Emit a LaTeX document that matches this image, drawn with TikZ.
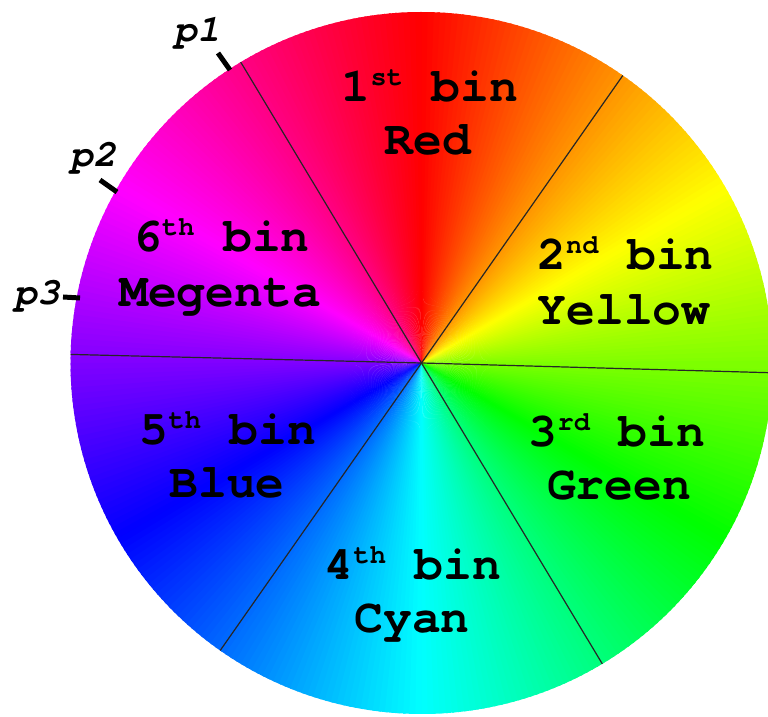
\documentclass[tikz,border=0pt]{standalone}
\usepackage{fontspec}
\newfontfamily\cour{TeX Gyre Cursor}
\newcommand\supr[1]{\raisebox{16pt}{\fontsize{27}{27}\selectfont #1}}
\begin{document}
\begin{tikzpicture}[x=1pt,y=1pt,
  lbl/.style={anchor=base, inner sep=0pt, font=\cour\bfseries\fontsize{48}{52}\selectfont},
  plbl/.style={anchor=base, inner sep=0pt, font=\cour\bfseries\itshape\fontsize{38}{40}\selectfont},
  divider/.style={line width=1.2pt, black!85},
  tickmark/.style={line width=5pt, black}]
\useasboundingbox (0,0) rectangle (768,717);
\clip (0,0) rectangle (768,717);
\coordinate (c) at (421.5,354);
\def\R{351}
% hue wheel
\foreach \i in {0,...,359}{
  \pgfmathsetmacro\h{mod(90-\i-0.5+720,360)}
  \definecolor{wc}{Hsb}{\h,1,1}
  \fill[wc] (c) -- ++(\i:\R) arc[start angle=\i, end angle=\i+1.4, radius=\R] -- cycle;
}
% dividers
\coordinate (d1) at ([shift={(121:\R)}]c);
\coordinate (d2) at ([shift={(55:\R)}]c);
\coordinate (d3) at ([shift={(-1.6:\R)}]c);
\coordinate (d4) at ([shift={(-59:\R)}]c);
\coordinate (d5) at ([shift={(-125:\R)}]c);
\coordinate (d6) at ([shift={(178.6:\R)}]c);
\foreach \d in {d1,d2,d3,d4,d5,d6}{\draw[divider] (c) -- (\d);}
% labels
\node[lbl] (b1a) at (430,615) {1\supr{st} bin};
\node[lbl] (b1b) at (428,562) {Red};
\node[lbl] (b2a) at (625.5,447) {2\supr{nd} bin};
\node[lbl] (b2b) at (624,392) {Yellow};
\node[lbl] (b3a) at (617,270) {3\supr{rd} bin};
\node[lbl] (b3b) at (619,217) {Green};
\node[lbl] (b4a) at (413,137) {4\supr{th} bin};
\node[lbl] (b4b) at (412,84) {Cyan};
\node[lbl] (b5a) at (228,272) {5\supr{th} bin};
\node[lbl] (b5b) at (227,219) {Blue};
\node[lbl] (b6a) at (221.5,465) {6\supr{th} bin};
\node[lbl] (b6b) at (220,410) {Megenta};
% ticks
\coordinate (t1a) at (230,647); \coordinate (t1b) at (218,664);
\coordinate (t2a) at (117,525); \coordinate (t2b) at (100,537);
\coordinate (t3a) at (80,419);  \coordinate (t3b) at (63,420);
\draw[tickmark] (t1a) -- (t1b);
\draw[tickmark] (t2a) -- (t2b);
\draw[tickmark] (t3a) -- (t3b);
\node[plbl] (p1) at (197,675) {p1};
\node[plbl] (p2) at (93,550) {p2};
\node[plbl] (p3) at (37,412) {p3};
\end{tikzpicture}
\end{document}
